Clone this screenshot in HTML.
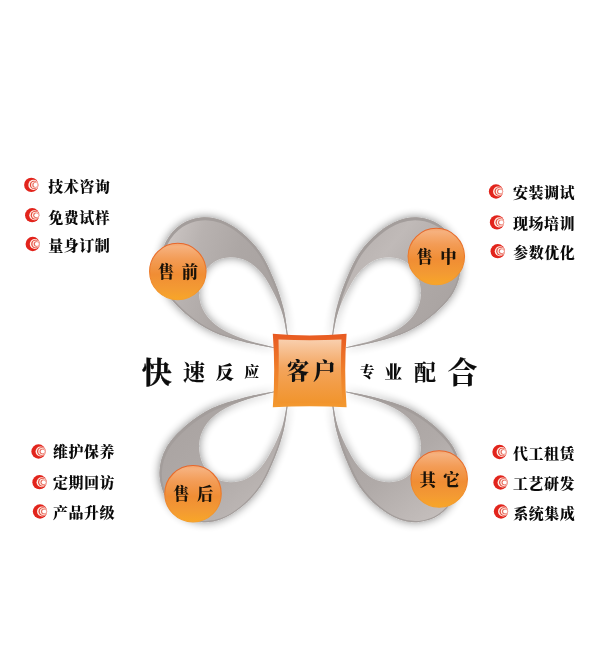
<!DOCTYPE html>
<html lang="zh-CN">
<head>
<meta charset="utf-8">
<title>客户服务</title>
<style>
html,body{margin:0;padding:0;background:#fff;}
body{width:600px;height:653px;overflow:hidden;font-family:"Liberation Serif","Noto Serif CJK SC",serif;}
svg{display:block;will-change:transform;}
svg text{font-family:"Liberation Serif","Noto Serif CJK SC",serif;}
</style>
</head>
<body>
<svg width="600" height="653" viewBox="0 0 600 653">
<defs>
<filter id="sh" x="-30%" y="-30%" width="160%" height="160%">
<feGaussianBlur in="SourceAlpha" stdDeviation="5" result="b"/>
<feOffset in="b" dx="0.3" dy="0.3" result="o"/>
<feComponentTransfer in="o" result="s"><feFuncA type="linear" slope="0.47"/></feComponentTransfer>
<feMerge><feMergeNode in="s"/><feMergeNode in="SourceGraphic"/></feMerge>
</filter>
<linearGradient id="rg-tl" gradientUnits="userSpaceOnUse" x1="160" y1="235" x2="285" y2="275">
<stop offset="0" stop-color="#cfc9c7"/><stop offset="0.3" stop-color="#b8b2b0"/><stop offset="0.6" stop-color="#ada7a5"/><stop offset="1" stop-color="#a8a2a0"/>
</linearGradient>
<linearGradient id="rg-bl" gradientUnits="userSpaceOnUse" x1="175" y1="430" x2="250" y2="525">
<stop offset="0" stop-color="#aaa4a2"/><stop offset="0.5" stop-color="#b0aaa8"/><stop offset="1" stop-color="#c0bab8"/>
</linearGradient>
<linearGradient id="rg-tr" gradientUnits="userSpaceOnUse" x1="345" y1="235" x2="455" y2="325">
<stop offset="0" stop-color="#b4aeac"/><stop offset="0.3" stop-color="#c0bab8"/><stop offset="0.65" stop-color="#aea8a6"/><stop offset="1" stop-color="#a8a2a0"/>
</linearGradient>
<linearGradient id="rg-br" gradientUnits="userSpaceOnUse" x1="350" y1="420" x2="430" y2="525">
<stop offset="0" stop-color="#a8a2a0"/><stop offset="0.5" stop-color="#b0aaa8"/><stop offset="1" stop-color="#c5bfbd"/>
</linearGradient>
<linearGradient id="cg" x1="0" y1="0" x2="0" y2="1">
<stop offset="0" stop-color="#f3a46c"/><stop offset="0.06" stop-color="#f6b17e"/><stop offset="0.28" stop-color="#f39c56"/><stop offset="0.55" stop-color="#f08d34"/><stop offset="0.8" stop-color="#f39a33"/><stop offset="1" stop-color="#f8a628"/>
</linearGradient>
<linearGradient id="cs" x1="0" y1="0" x2="0" y2="1">
<stop offset="0" stop-color="#e7662a"/><stop offset="0.5" stop-color="#ec7a2a"/><stop offset="1" stop-color="#f6a22c"/>
</linearGradient>
<linearGradient id="bg1" x1="0" y1="0" x2="0" y2="1">
<stop offset="0" stop-color="#e85a22"/><stop offset="0.5" stop-color="#ef7f2a"/><stop offset="1" stop-color="#f3992f"/>
</linearGradient>
<linearGradient id="bg2" x1="0" y1="0" x2="0" y2="1">
<stop offset="0" stop-color="#f9cfae"/><stop offset="0.45" stop-color="#f3a45c"/><stop offset="1" stop-color="#f1942c"/>
</linearGradient>
</defs>
<rect width="600" height="653" fill="#ffffff"/>

<clipPath id="cp-tl"><path d="M287.8 335.0C287.1 330.7 285.8 317.8 283.6 309.0C281.4 300.2 278.7 291.3 274.8 282.0C270.9 272.7 266.1 261.2 260.5 253.0C254.9 244.8 248.1 237.9 241.5 232.5C234.9 227.1 227.8 222.8 221.0 220.3C214.2 217.8 207.7 216.9 201.0 217.6C194.3 218.3 186.8 220.5 181.0 224.5C175.2 228.5 169.6 234.4 166.0 241.5C162.4 248.6 159.4 258.6 159.5 267.0C159.6 275.4 162.1 284.2 166.5 292.0C170.9 299.8 178.4 307.4 186.0 314.0C193.6 320.6 202.5 326.7 212.0 331.3C221.5 335.9 232.7 338.8 243.0 341.6C253.3 344.4 268.8 347.0 274.0 348.1L274.0 347.4C269.2 346.1 254.0 342.8 245.0 339.6C236.0 336.4 226.8 332.5 220.0 328.0C213.2 323.5 208.0 318.2 204.5 312.5C201.0 306.8 199.2 300.2 199.0 294.0C198.8 287.8 200.5 280.3 203.0 275.0C205.5 269.7 209.5 264.9 214.0 262.0C218.5 259.1 224.5 257.5 230.0 257.3C235.5 257.1 241.7 258.3 247.0 261.0C252.3 263.7 257.4 268.0 262.0 273.5C266.6 279.0 270.8 287.1 274.3 294.0C277.8 300.9 280.7 308.2 282.8 315.0C284.9 321.8 286.2 331.7 286.9 335.0Z"/></clipPath>
<g filter="url(#sh)"><path d="M287.8 335.0C287.1 330.7 285.8 317.8 283.6 309.0C281.4 300.2 278.7 291.3 274.8 282.0C270.9 272.7 266.1 261.2 260.5 253.0C254.9 244.8 248.1 237.9 241.5 232.5C234.9 227.1 227.8 222.8 221.0 220.3C214.2 217.8 207.7 216.9 201.0 217.6C194.3 218.3 186.8 220.5 181.0 224.5C175.2 228.5 169.6 234.4 166.0 241.5C162.4 248.6 159.4 258.6 159.5 267.0C159.6 275.4 162.1 284.2 166.5 292.0C170.9 299.8 178.4 307.4 186.0 314.0C193.6 320.6 202.5 326.7 212.0 331.3C221.5 335.9 232.7 338.8 243.0 341.6C253.3 344.4 268.8 347.0 274.0 348.1L274.0 347.4C269.2 346.1 254.0 342.8 245.0 339.6C236.0 336.4 226.8 332.5 220.0 328.0C213.2 323.5 208.0 318.2 204.5 312.5C201.0 306.8 199.2 300.2 199.0 294.0C198.8 287.8 200.5 280.3 203.0 275.0C205.5 269.7 209.5 264.9 214.0 262.0C218.5 259.1 224.5 257.5 230.0 257.3C235.5 257.1 241.7 258.3 247.0 261.0C252.3 263.7 257.4 268.0 262.0 273.5C266.6 279.0 270.8 287.1 274.3 294.0C277.8 300.9 280.7 308.2 282.8 315.0C284.9 321.8 286.2 331.7 286.9 335.0Z" fill="url(#rg-tl)"/><g clip-path="url(#cp-tl)"><path d="M287.8 335.0C287.1 330.7 285.8 317.8 283.6 309.0C281.4 300.2 278.7 291.3 274.8 282.0C270.9 272.7 266.1 261.2 260.5 253.0C254.9 244.8 248.1 237.9 241.5 232.5C234.9 227.1 227.8 222.8 221.0 220.3C214.2 217.8 207.7 216.9 201.0 217.6C194.3 218.3 186.8 220.5 181.0 224.5C175.2 228.5 169.6 234.4 166.0 241.5C162.4 248.6 159.4 258.6 159.5 267.0C159.6 275.4 162.1 284.2 166.5 292.0C170.9 299.8 178.4 307.4 186.0 314.0C193.6 320.6 202.5 326.7 212.0 331.3C221.5 335.9 232.7 338.8 243.0 341.6C253.3 344.4 268.8 347.0 274.0 348.1" fill="none" stroke="#a39d9b" stroke-width="4" transform="translate(0.3,0.9)"/></g></g>
<clipPath id="cp-tr"><path d="M332.2 335.0C332.9 330.7 334.2 317.8 336.4 309.0C338.6 300.2 341.3 291.3 345.2 282.0C349.1 272.7 353.9 261.2 359.5 253.0C365.1 244.8 371.9 237.9 378.5 232.5C385.1 227.1 392.2 222.8 399.0 220.3C405.8 217.8 412.3 216.9 419.0 217.6C425.7 218.3 433.2 220.5 439.0 224.5C444.8 228.5 450.4 234.4 454.0 241.5C457.6 248.6 460.6 258.6 460.5 267.0C460.4 275.4 457.9 284.2 453.5 292.0C449.1 299.8 441.6 307.4 434.0 314.0C426.4 320.6 417.5 326.7 408.0 331.3C398.5 335.9 387.3 338.8 377.0 341.6C366.7 344.4 351.2 347.0 346.0 348.1L346.0 347.4C350.8 346.1 366.0 342.8 375.0 339.6C384.0 336.4 393.2 332.5 400.0 328.0C406.8 323.5 412.0 318.2 415.5 312.5C419.0 306.8 420.8 300.2 421.0 294.0C421.2 287.8 419.5 280.3 417.0 275.0C414.5 269.7 410.5 264.9 406.0 262.0C401.5 259.1 395.5 257.5 390.0 257.3C384.5 257.1 378.3 258.3 373.0 261.0C367.7 263.7 362.6 268.0 358.0 273.5C353.4 279.0 349.2 287.1 345.7 294.0C342.2 300.9 339.3 308.2 337.2 315.0C335.1 321.8 333.8 331.7 333.1 335.0Z"/></clipPath>
<g filter="url(#sh)"><path d="M332.2 335.0C332.9 330.7 334.2 317.8 336.4 309.0C338.6 300.2 341.3 291.3 345.2 282.0C349.1 272.7 353.9 261.2 359.5 253.0C365.1 244.8 371.9 237.9 378.5 232.5C385.1 227.1 392.2 222.8 399.0 220.3C405.8 217.8 412.3 216.9 419.0 217.6C425.7 218.3 433.2 220.5 439.0 224.5C444.8 228.5 450.4 234.4 454.0 241.5C457.6 248.6 460.6 258.6 460.5 267.0C460.4 275.4 457.9 284.2 453.5 292.0C449.1 299.8 441.6 307.4 434.0 314.0C426.4 320.6 417.5 326.7 408.0 331.3C398.5 335.9 387.3 338.8 377.0 341.6C366.7 344.4 351.2 347.0 346.0 348.1L346.0 347.4C350.8 346.1 366.0 342.8 375.0 339.6C384.0 336.4 393.2 332.5 400.0 328.0C406.8 323.5 412.0 318.2 415.5 312.5C419.0 306.8 420.8 300.2 421.0 294.0C421.2 287.8 419.5 280.3 417.0 275.0C414.5 269.7 410.5 264.9 406.0 262.0C401.5 259.1 395.5 257.5 390.0 257.3C384.5 257.1 378.3 258.3 373.0 261.0C367.7 263.7 362.6 268.0 358.0 273.5C353.4 279.0 349.2 287.1 345.7 294.0C342.2 300.9 339.3 308.2 337.2 315.0C335.1 321.8 333.8 331.7 333.1 335.0Z" fill="url(#rg-tr)"/><g clip-path="url(#cp-tr)"><path d="M332.2 335.0C332.9 330.7 334.2 317.8 336.4 309.0C338.6 300.2 341.3 291.3 345.2 282.0C349.1 272.7 353.9 261.2 359.5 253.0C365.1 244.8 371.9 237.9 378.5 232.5C385.1 227.1 392.2 222.8 399.0 220.3C405.8 217.8 412.3 216.9 419.0 217.6C425.7 218.3 433.2 220.5 439.0 224.5C444.8 228.5 450.4 234.4 454.0 241.5C457.6 248.6 460.6 258.6 460.5 267.0C460.4 275.4 457.9 284.2 453.5 292.0C449.1 299.8 441.6 307.4 434.0 314.0C426.4 320.6 417.5 326.7 408.0 331.3C398.5 335.9 387.3 338.8 377.0 341.6C366.7 344.4 351.2 347.0 346.0 348.1" fill="none" stroke="#a39d9b" stroke-width="4" transform="translate(0.3,0.9)"/></g></g>
<clipPath id="cp-bl"><path d="M287.8 404.6C287.1 408.9 285.8 421.8 283.6 430.6C281.4 439.4 278.7 448.3 274.8 457.6C270.9 466.9 266.1 478.4 260.5 486.6C254.9 494.9 248.1 501.7 241.5 507.1C234.9 512.5 227.8 516.8 221.0 519.3C214.2 521.8 207.7 522.7 201.0 522.0C194.3 521.3 186.8 519.1 181.0 515.1C175.2 511.1 169.6 505.2 166.0 498.1C162.4 491.0 159.4 481.0 159.5 472.6C159.6 464.2 162.1 455.4 166.5 447.6C170.9 439.8 178.4 432.2 186.0 425.6C193.6 419.1 202.5 412.9 212.0 408.3C221.5 403.7 232.7 400.8 243.0 398.0C253.3 395.2 268.8 392.6 274.0 391.5L274.0 392.2C269.2 393.5 254.0 396.8 245.0 400.0C236.0 403.2 226.8 407.1 220.0 411.6C213.2 416.1 208.0 421.4 204.5 427.1C201.0 432.8 199.2 439.4 199.0 445.6C198.8 451.9 200.5 459.3 203.0 464.6C205.5 469.9 209.5 474.7 214.0 477.6C218.5 480.6 224.5 482.1 230.0 482.3C235.5 482.5 241.7 481.3 247.0 478.6C252.3 475.9 257.4 471.6 262.0 466.1C266.6 460.6 270.8 452.5 274.3 445.6C277.8 438.7 280.7 431.4 282.8 424.6C284.9 417.8 286.2 407.9 286.9 404.6Z"/></clipPath>
<g filter="url(#sh)"><path d="M287.8 404.6C287.1 408.9 285.8 421.8 283.6 430.6C281.4 439.4 278.7 448.3 274.8 457.6C270.9 466.9 266.1 478.4 260.5 486.6C254.9 494.9 248.1 501.7 241.5 507.1C234.9 512.5 227.8 516.8 221.0 519.3C214.2 521.8 207.7 522.7 201.0 522.0C194.3 521.3 186.8 519.1 181.0 515.1C175.2 511.1 169.6 505.2 166.0 498.1C162.4 491.0 159.4 481.0 159.5 472.6C159.6 464.2 162.1 455.4 166.5 447.6C170.9 439.8 178.4 432.2 186.0 425.6C193.6 419.1 202.5 412.9 212.0 408.3C221.5 403.7 232.7 400.8 243.0 398.0C253.3 395.2 268.8 392.6 274.0 391.5L274.0 392.2C269.2 393.5 254.0 396.8 245.0 400.0C236.0 403.2 226.8 407.1 220.0 411.6C213.2 416.1 208.0 421.4 204.5 427.1C201.0 432.8 199.2 439.4 199.0 445.6C198.8 451.9 200.5 459.3 203.0 464.6C205.5 469.9 209.5 474.7 214.0 477.6C218.5 480.6 224.5 482.1 230.0 482.3C235.5 482.5 241.7 481.3 247.0 478.6C252.3 475.9 257.4 471.6 262.0 466.1C266.6 460.6 270.8 452.5 274.3 445.6C277.8 438.7 280.7 431.4 282.8 424.6C284.9 417.8 286.2 407.9 286.9 404.6Z" fill="url(#rg-bl)"/><g clip-path="url(#cp-bl)"><path d="M287.8 404.6C287.1 408.9 285.8 421.8 283.6 430.6C281.4 439.4 278.7 448.3 274.8 457.6C270.9 466.9 266.1 478.4 260.5 486.6C254.9 494.9 248.1 501.7 241.5 507.1C234.9 512.5 227.8 516.8 221.0 519.3C214.2 521.8 207.7 522.7 201.0 522.0C194.3 521.3 186.8 519.1 181.0 515.1C175.2 511.1 169.6 505.2 166.0 498.1C162.4 491.0 159.4 481.0 159.5 472.6C159.6 464.2 162.1 455.4 166.5 447.6C170.9 439.8 178.4 432.2 186.0 425.6C193.6 419.1 202.5 412.9 212.0 408.3C221.5 403.7 232.7 400.8 243.0 398.0C253.3 395.2 268.8 392.6 274.0 391.5" fill="none" stroke="#a39d9b" stroke-width="4" transform="translate(0.3,0.9)"/></g></g>
<clipPath id="cp-br"><path d="M332.2 404.6C332.9 408.9 334.2 421.8 336.4 430.6C338.6 439.4 341.3 448.3 345.2 457.6C349.1 466.9 353.9 478.4 359.5 486.6C365.1 494.9 371.9 501.7 378.5 507.1C385.1 512.5 392.2 516.8 399.0 519.3C405.8 521.8 412.3 522.7 419.0 522.0C425.7 521.3 433.2 519.1 439.0 515.1C444.8 511.1 450.4 505.2 454.0 498.1C457.6 491.0 460.6 481.0 460.5 472.6C460.4 464.2 457.9 455.4 453.5 447.6C449.1 439.8 441.6 432.2 434.0 425.6C426.4 419.1 417.5 412.9 408.0 408.3C398.5 403.7 387.3 400.8 377.0 398.0C366.7 395.2 351.2 392.6 346.0 391.5L346.0 392.2C350.8 393.5 366.0 396.8 375.0 400.0C384.0 403.2 393.2 407.1 400.0 411.6C406.8 416.1 412.0 421.4 415.5 427.1C419.0 432.8 420.8 439.4 421.0 445.6C421.2 451.9 419.5 459.3 417.0 464.6C414.5 469.9 410.5 474.7 406.0 477.6C401.5 480.6 395.5 482.1 390.0 482.3C384.5 482.5 378.3 481.3 373.0 478.6C367.7 475.9 362.6 471.6 358.0 466.1C353.4 460.6 349.2 452.5 345.7 445.6C342.2 438.7 339.3 431.4 337.2 424.6C335.1 417.8 333.8 407.9 333.1 404.6Z"/></clipPath>
<g filter="url(#sh)"><path d="M332.2 404.6C332.9 408.9 334.2 421.8 336.4 430.6C338.6 439.4 341.3 448.3 345.2 457.6C349.1 466.9 353.9 478.4 359.5 486.6C365.1 494.9 371.9 501.7 378.5 507.1C385.1 512.5 392.2 516.8 399.0 519.3C405.8 521.8 412.3 522.7 419.0 522.0C425.7 521.3 433.2 519.1 439.0 515.1C444.8 511.1 450.4 505.2 454.0 498.1C457.6 491.0 460.6 481.0 460.5 472.6C460.4 464.2 457.9 455.4 453.5 447.6C449.1 439.8 441.6 432.2 434.0 425.6C426.4 419.1 417.5 412.9 408.0 408.3C398.5 403.7 387.3 400.8 377.0 398.0C366.7 395.2 351.2 392.6 346.0 391.5L346.0 392.2C350.8 393.5 366.0 396.8 375.0 400.0C384.0 403.2 393.2 407.1 400.0 411.6C406.8 416.1 412.0 421.4 415.5 427.1C419.0 432.8 420.8 439.4 421.0 445.6C421.2 451.9 419.5 459.3 417.0 464.6C414.5 469.9 410.5 474.7 406.0 477.6C401.5 480.6 395.5 482.1 390.0 482.3C384.5 482.5 378.3 481.3 373.0 478.6C367.7 475.9 362.6 471.6 358.0 466.1C353.4 460.6 349.2 452.5 345.7 445.6C342.2 438.7 339.3 431.4 337.2 424.6C335.1 417.8 333.8 407.9 333.1 404.6Z" fill="url(#rg-br)"/><g clip-path="url(#cp-br)"><path d="M332.2 404.6C332.9 408.9 334.2 421.8 336.4 430.6C338.6 439.4 341.3 448.3 345.2 457.6C349.1 466.9 353.9 478.4 359.5 486.6C365.1 494.9 371.9 501.7 378.5 507.1C385.1 512.5 392.2 516.8 399.0 519.3C405.8 521.8 412.3 522.7 419.0 522.0C425.7 521.3 433.2 519.1 439.0 515.1C444.8 511.1 450.4 505.2 454.0 498.1C457.6 491.0 460.6 481.0 460.5 472.6C460.4 464.2 457.9 455.4 453.5 447.6C449.1 439.8 441.6 432.2 434.0 425.6C426.4 419.1 417.5 412.9 408.0 408.3C398.5 403.7 387.3 400.8 377.0 398.0C366.7 395.2 351.2 392.6 346.0 391.5" fill="none" stroke="#a39d9b" stroke-width="4" transform="translate(0.3,0.9)"/></g></g>
<path d="M272.8 333.8 Q309.5 337 346.6 333.8 Q343.8 370.5 346.6 407.3 Q309.5 405.2 272.8 407.3 Q275.6 370.5 272.8 333.8Z" fill="url(#bg1)"/>
<path d="M278.5 339.5 Q309.5 341 341.5 339.5 Q340 371 342.5 403.5 Q309.5 401.5 277 403.5 Q279.5 371 278.5 339.5Z" fill="url(#bg2)"/>
<text x="313" y="379.3" text-anchor="middle" font-size="22.5" font-weight="900" letter-spacing="3.8" fill="#111">客户</text>
<circle cx="177.8" cy="271.5" r="28.2" fill="url(#cg)" stroke="url(#cs)" stroke-width="1.1"/>
<text transform="translate(178.1,278.1) scale(0.96,1)" x="3.9" y="0" text-anchor="middle" font-size="17" font-weight="900" letter-spacing="7.8" fill="#1a1208">售前</text>
<circle cx="436.3" cy="256.5" r="28.2" fill="url(#cg)" stroke="url(#cs)" stroke-width="1.1"/>
<text transform="translate(436.6,263.1) scale(0.96,1)" x="3.9" y="0" text-anchor="middle" font-size="17" font-weight="900" letter-spacing="7.8" fill="#1a1208">售中</text>
<circle cx="193" cy="493.7" r="28.2" fill="url(#cg)" stroke="url(#cs)" stroke-width="1.1"/>
<text transform="translate(193.3,500.3) scale(0.96,1)" x="3.9" y="0" text-anchor="middle" font-size="17" font-weight="900" letter-spacing="7.8" fill="#1a1208">售后</text>
<circle cx="439.2" cy="479.0" r="28.2" fill="url(#cg)" stroke="url(#cs)" stroke-width="1.1"/>
<text transform="translate(439.5,485.6) scale(0.96,1)" x="3.9" y="0" text-anchor="middle" font-size="17" font-weight="900" letter-spacing="7.8" fill="#1a1208">其它</text>
<text text-anchor="middle" fill="#0c0c0c"><tspan x="156.7" y="382.5" font-size="30" font-weight="700" stroke="#0c0c0c" stroke-width="0.4">快</tspan><tspan x="194" y="379.6" font-size="22" font-weight="700" stroke="#0c0c0c" stroke-width="0.15">速</tspan><tspan x="225" y="379.1" font-size="18.3" font-weight="900">反</tspan><tspan x="251.7" y="377.3" font-size="15" font-weight="900">应</tspan></text>
<text text-anchor="middle" fill="#0c0c0c"><tspan x="367.3" y="376.9" font-size="15" font-weight="900">专</tspan><tspan x="393.2" y="379.2" font-size="18" font-weight="900">业</tspan><tspan x="425" y="379.6" font-size="22" font-weight="700" stroke="#0c0c0c" stroke-width="0.15">配</tspan><tspan x="462.5" y="382.8" font-size="30" font-weight="700" stroke="#0c0c0c" stroke-width="0.15">合</tspan></text>
<g transform="translate(31.3,184.9)"><circle r="7.15" fill="#e2241c"/><circle cx="2.1" r="5.05" fill="#fff1e8"/><circle cx="2.7" r="4.2" fill="#e5473b"/><circle cx="3.2" r="3.45" fill="#fff1e8"/><circle cx="3.7" r="2.7" fill="#e8695c"/><circle cx="4.2" r="2.05" fill="#ffffff"/></g>
<text x="48.3" y="191.9" font-size="15" font-weight="900" letter-spacing="0.5" fill="#0a0a0a">技术咨询</text>
<g transform="translate(32.2,215.2)"><circle r="7.15" fill="#e2241c"/><circle cx="2.1" r="5.05" fill="#fff1e8"/><circle cx="2.7" r="4.2" fill="#e5473b"/><circle cx="3.2" r="3.45" fill="#fff1e8"/><circle cx="3.7" r="2.7" fill="#e8695c"/><circle cx="4.2" r="2.05" fill="#ffffff"/></g>
<text x="48.3" y="222.9" font-size="15" font-weight="900" letter-spacing="0.5" fill="#0a0a0a">免费试样</text>
<g transform="translate(32.7,244.0)"><circle r="7.15" fill="#e2241c"/><circle cx="2.1" r="5.05" fill="#fff1e8"/><circle cx="2.7" r="4.2" fill="#e5473b"/><circle cx="3.2" r="3.45" fill="#fff1e8"/><circle cx="3.7" r="2.7" fill="#e8695c"/><circle cx="4.2" r="2.05" fill="#ffffff"/></g>
<text x="48.3" y="251.1" font-size="15" font-weight="900" letter-spacing="0.5" fill="#0a0a0a">量身订制</text>
<g transform="translate(496,191.5)"><circle r="7.15" fill="#e2241c"/><circle cx="2.1" r="5.05" fill="#fff1e8"/><circle cx="2.7" r="4.2" fill="#e5473b"/><circle cx="3.2" r="3.45" fill="#fff1e8"/><circle cx="3.7" r="2.7" fill="#e8695c"/><circle cx="4.2" r="2.05" fill="#ffffff"/></g>
<text x="513" y="197.9" font-size="15" font-weight="900" letter-spacing="0.5" fill="#0a0a0a">安装调试</text>
<g transform="translate(497,222.4)"><circle r="7.15" fill="#e2241c"/><circle cx="2.1" r="5.05" fill="#fff1e8"/><circle cx="2.7" r="4.2" fill="#e5473b"/><circle cx="3.2" r="3.45" fill="#fff1e8"/><circle cx="3.7" r="2.7" fill="#e8695c"/><circle cx="4.2" r="2.05" fill="#ffffff"/></g>
<text x="513" y="229.3" font-size="15" font-weight="900" letter-spacing="0.5" fill="#0a0a0a">现场培训</text>
<g transform="translate(497.7,251.2)"><circle r="7.15" fill="#e2241c"/><circle cx="2.1" r="5.05" fill="#fff1e8"/><circle cx="2.7" r="4.2" fill="#e5473b"/><circle cx="3.2" r="3.45" fill="#fff1e8"/><circle cx="3.7" r="2.7" fill="#e8695c"/><circle cx="4.2" r="2.05" fill="#ffffff"/></g>
<text x="513.3" y="258.3" font-size="15" font-weight="900" letter-spacing="0.5" fill="#0a0a0a">参数优化</text>
<g transform="translate(38.5,451.5)"><circle r="7.15" fill="#e2241c"/><circle cx="2.1" r="5.05" fill="#fff1e8"/><circle cx="2.7" r="4.2" fill="#e5473b"/><circle cx="3.2" r="3.45" fill="#fff1e8"/><circle cx="3.7" r="2.7" fill="#e8695c"/><circle cx="4.2" r="2.05" fill="#ffffff"/></g>
<text x="53" y="457.4" font-size="15" font-weight="900" letter-spacing="0.5" fill="#0a0a0a">维护保养</text>
<g transform="translate(39.5,482.2)"><circle r="7.15" fill="#e2241c"/><circle cx="2.1" r="5.05" fill="#fff1e8"/><circle cx="2.7" r="4.2" fill="#e5473b"/><circle cx="3.2" r="3.45" fill="#fff1e8"/><circle cx="3.7" r="2.7" fill="#e8695c"/><circle cx="4.2" r="2.05" fill="#ffffff"/></g>
<text x="53" y="488.3" font-size="15" font-weight="900" letter-spacing="0.5" fill="#0a0a0a">定期回访</text>
<g transform="translate(40,511.5)"><circle r="7.15" fill="#e2241c"/><circle cx="2.1" r="5.05" fill="#fff1e8"/><circle cx="2.7" r="4.2" fill="#e5473b"/><circle cx="3.2" r="3.45" fill="#fff1e8"/><circle cx="3.7" r="2.7" fill="#e8695c"/><circle cx="4.2" r="2.05" fill="#ffffff"/></g>
<text x="53" y="518.3" font-size="15" font-weight="900" letter-spacing="0.5" fill="#0a0a0a">产品升级</text>
<g transform="translate(499.5,452.0)"><circle r="7.15" fill="#e2241c"/><circle cx="2.1" r="5.05" fill="#fff1e8"/><circle cx="2.7" r="4.2" fill="#e5473b"/><circle cx="3.2" r="3.45" fill="#fff1e8"/><circle cx="3.7" r="2.7" fill="#e8695c"/><circle cx="4.2" r="2.05" fill="#ffffff"/></g>
<text x="513" y="458.9" font-size="15" font-weight="900" letter-spacing="0.5" fill="#0a0a0a">代工租赁</text>
<g transform="translate(500.5,482.5)"><circle r="7.15" fill="#e2241c"/><circle cx="2.1" r="5.05" fill="#fff1e8"/><circle cx="2.7" r="4.2" fill="#e5473b"/><circle cx="3.2" r="3.45" fill="#fff1e8"/><circle cx="3.7" r="2.7" fill="#e8695c"/><circle cx="4.2" r="2.05" fill="#ffffff"/></g>
<text x="513" y="488.9" font-size="15" font-weight="900" letter-spacing="0.5" fill="#0a0a0a">工艺研发</text>
<g transform="translate(501,511.5)"><circle r="7.15" fill="#e2241c"/><circle cx="2.1" r="5.05" fill="#fff1e8"/><circle cx="2.7" r="4.2" fill="#e5473b"/><circle cx="3.2" r="3.45" fill="#fff1e8"/><circle cx="3.7" r="2.7" fill="#e8695c"/><circle cx="4.2" r="2.05" fill="#ffffff"/></g>
<text x="513.3" y="518.9" font-size="15" font-weight="900" letter-spacing="0.5" fill="#0a0a0a">系统集成</text>
</svg>
</body>
</html>
